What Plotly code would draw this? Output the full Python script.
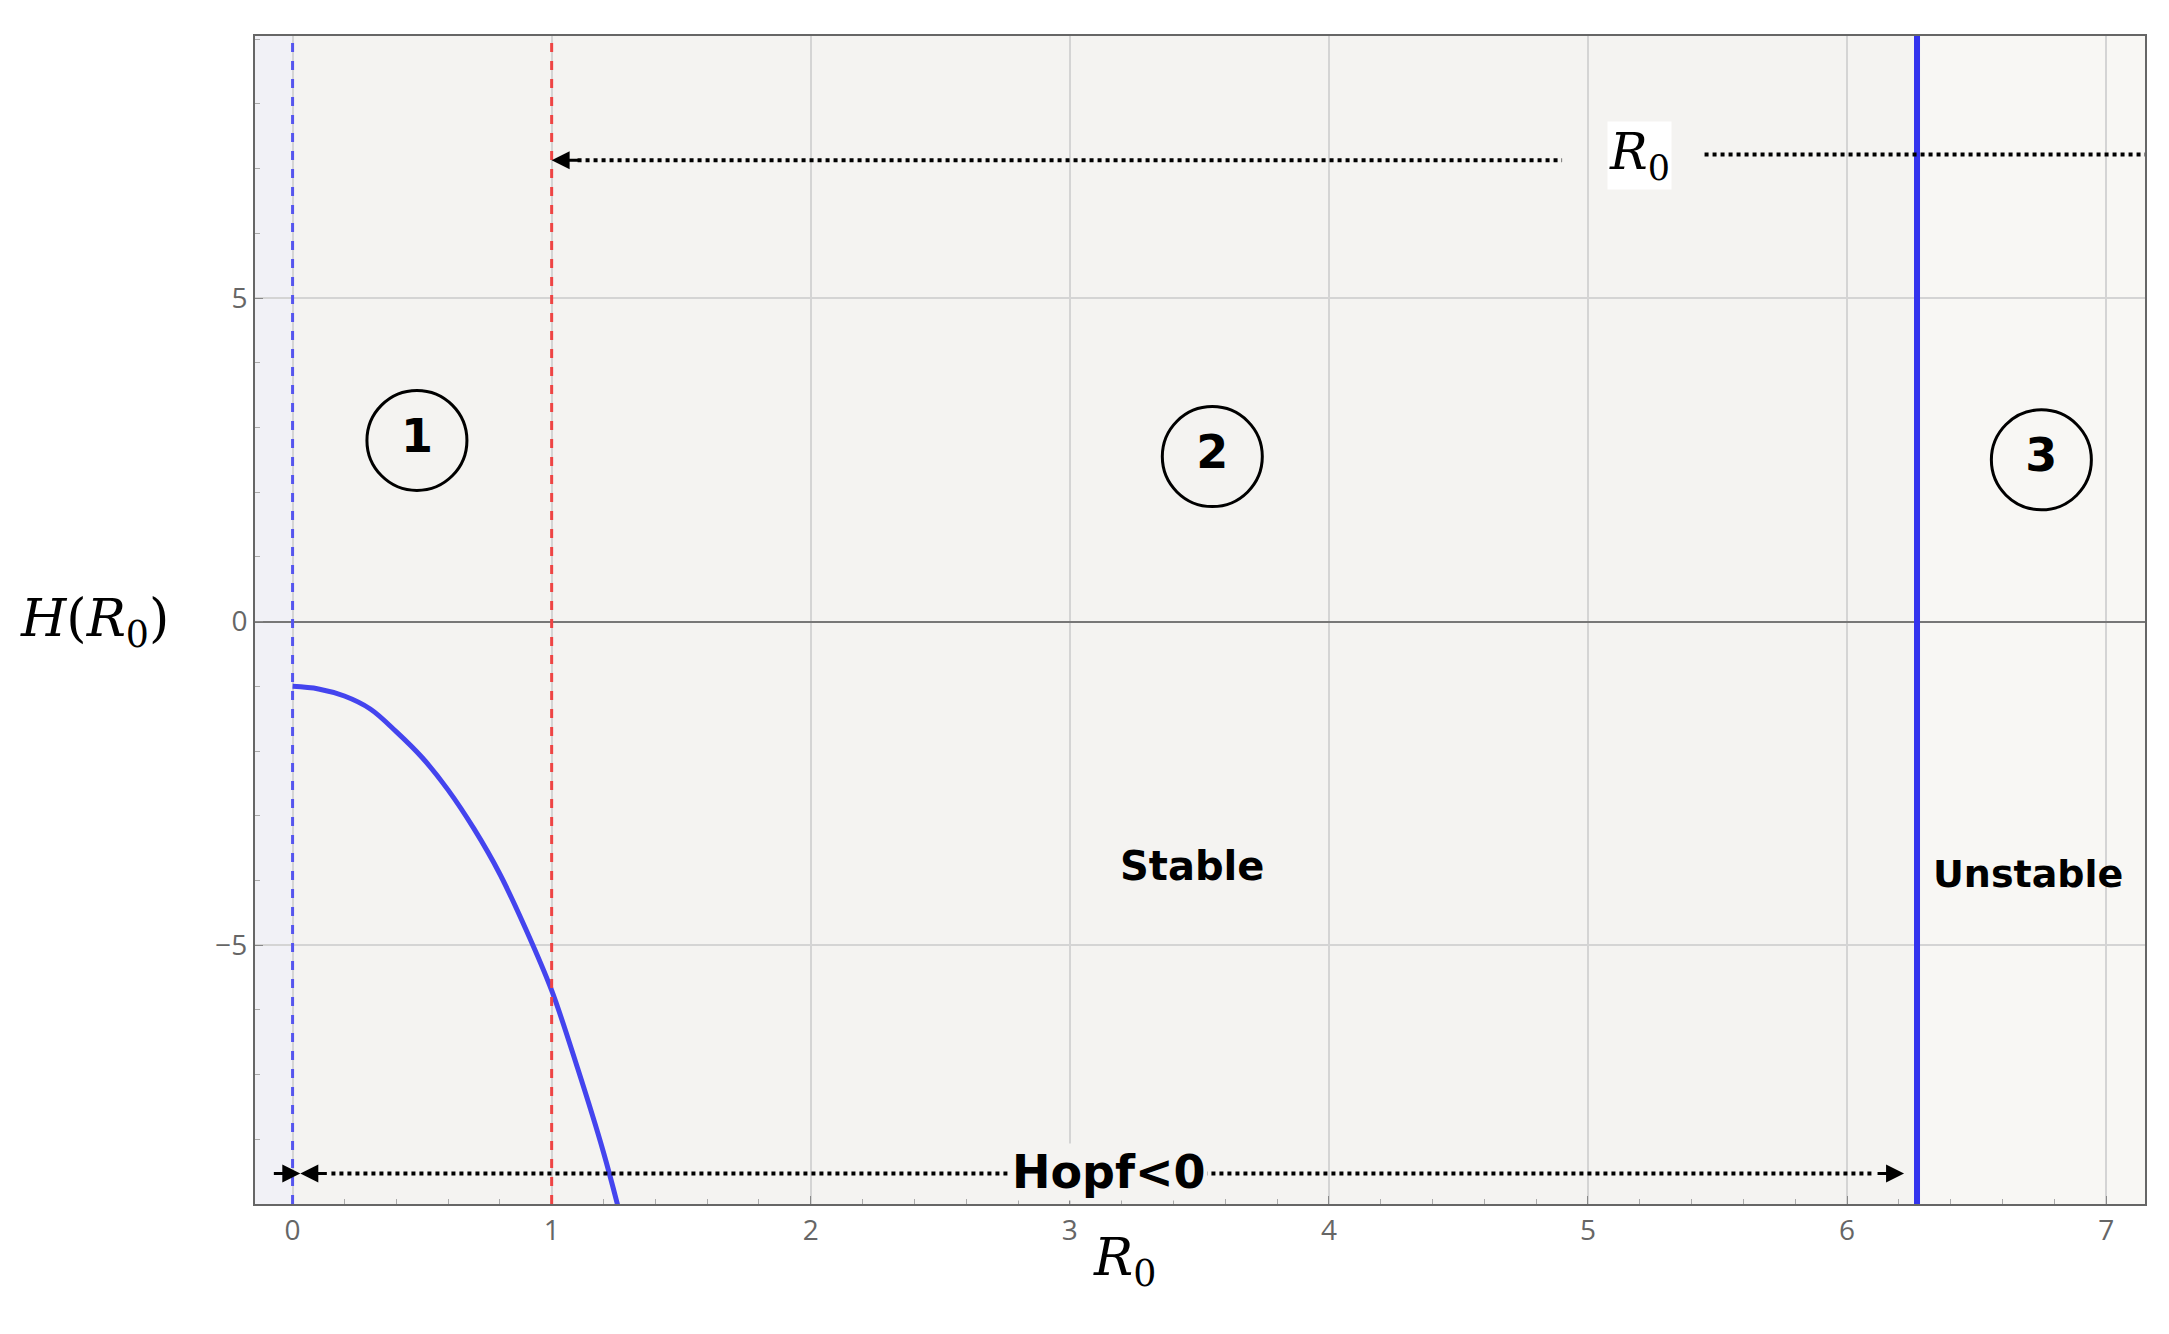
import plotly.graph_objects as go

# curve H(R0)
r0 = [0.0, 0.1, 0.2, 0.3, 0.4, 0.5, 0.6, 0.7, 0.8, 0.9, 1.0, 1.1, 1.2, 1.26]
h = [-1.0, -1.04, -1.15, -1.35, -1.7, -2.1, -2.6, -3.2, -3.9, -4.75, -5.7, -6.9, -8.2, -9.1]

x_blue_dash = 0.0
x_red_dash = 1.0
x_hopf = 6.27

region_x = [0.48, 3.55, 6.75]
region_y = [2.8, 2.55, 2.5]
region_lbl = ["<b>1</b>", "<b>2</b>", "<b>3</b>"]

xticks = [0, 1, 2, 3, 4, 5, 6, 7]
yticks = [-5, 0, 5]

fig = go.Figure()

# background regions
fig.add_vrect(x0=-0.15, x1=x_blue_dash, fillcolor="#f1f1f6", line_width=0, layer="below")
fig.add_vrect(x0=x_blue_dash, x1=x_hopf, fillcolor="#f4f3f1", line_width=0, layer="below")
fig.add_vrect(x0=x_hopf, x1=7.15, fillcolor="#f8f7f4", line_width=0, layer="below")

fig.add_trace(go.Scatter(x=r0, y=h, mode="lines", line=dict(color="#4444ee", width=5, shape="spline"),
                         showlegend=False))

fig.add_vline(x=x_blue_dash, line=dict(color="#5555ee", width=3, dash="dash"))
fig.add_vline(x=x_red_dash, line=dict(color="#ee4444", width=3, dash="dash"))
fig.add_vline(x=x_hopf, line=dict(color="#3333ee", width=6))

# circled region numbers
fig.add_trace(go.Scatter(x=region_x, y=region_y, mode="markers+text", text=region_lbl,
                         textfont=dict(size=46, color="black", family="DejaVu Sans"),
                         marker=dict(symbol="circle-open", size=100, color="black", line=dict(width=3)),
                         showlegend=False))

# top arrow: dotted shaft + short arrowhead
fig.add_shape(type="line", x0=1.1, x1=4.9, y0=7.13, y1=7.13, line=dict(color="black", width=4, dash="dot"))
fig.add_annotation(x=x_red_dash, y=7.13, ax=28, ay=0, xref="x", yref="y",
                   showarrow=True, arrowhead=2, arrowsize=1.2, arrowwidth=3, arrowcolor="black", text="")
fig.add_shape(type="line", x0=5.45, x1=7.4, y0=7.22, y1=7.22, line=dict(color="black", width=4, dash="dot"))
fig.add_annotation(x=5.2, y=7.2, text="<i>R</i><sub>0</sub>", showarrow=False,
                   font=dict(family="DejaVu Serif", size=50, color="black"), bgcolor="white")

# bottom double arrow
fig.add_shape(type="line", x0=0.15, x1=6.1, y0=-8.53, y1=-8.53, line=dict(color="black", width=4, dash="dot"))
fig.add_annotation(x=0.03, y=-8.53, ax=-28, ay=0, xref="x", yref="y", showarrow=True, arrowhead=2,
                   arrowsize=1.2, arrowwidth=3, arrowcolor="black", text="", standoff=0)
fig.add_annotation(x=0.03, y=-8.53, ax=28, ay=0, xref="x", yref="y", showarrow=True, arrowhead=2,
                   arrowsize=1.2, arrowwidth=3, arrowcolor="black", text="")
fig.add_annotation(x=6.22, y=-8.53, ax=-28, ay=0, xref="x", yref="y", showarrow=True, arrowhead=2,
                   arrowsize=1.2, arrowwidth=3, arrowcolor="black", text="")
fig.add_annotation(x=3.15, y=-8.5, text="<b>Hopf<0</b>", showarrow=False,
                   font=dict(family="DejaVu Sans", size=46, color="black"), bgcolor="#f4f3f1")

fig.add_annotation(x=3.47, y=-3.77, text="<b>Stable</b>", showarrow=False,
                   font=dict(family="DejaVu Sans", size=40, color="black"))
fig.add_annotation(x=6.7, y=-3.9, text="<b>Unstable</b>", showarrow=False,
                   font=dict(family="DejaVu Sans", size=38, color="black"))

# axis titles
fig.add_annotation(xref="paper", yref="paper", x=0.46, y=-0.08, text="<i>R</i><sub>0</sub>",
                   showarrow=False, font=dict(family="DejaVu Serif", size=52, color="black"))
fig.add_annotation(xref="paper", yref="y", x=-0.085, y=0, xanchor="center", text="<i>H</i>(<i>R</i><sub>0</sub>)",
                   showarrow=False, font=dict(family="DejaVu Serif", size=52, color="black"))

fig.update_xaxes(range=[-0.145, 7.15], tickvals=xticks, showgrid=True, gridcolor="#d4d4d4", gridwidth=1.5,
                 zeroline=False, showline=True, mirror=True, linecolor="#666", linewidth=2,
                 ticks="inside", ticklen=8, tickcolor="#888", tickfont=dict(size=28, color="#666"),
                 minor=dict(ticks="inside", ticklen=5, dtick=0.2, tickcolor="#aaa"))
fig.update_yaxes(range=[-9.0, 9.05], tickvals=yticks, showgrid=True, gridcolor="#d4d4d4", gridwidth=1.5,
                 zeroline=True, zerolinecolor="#777", zerolinewidth=2,
                 showline=True, mirror=True, linecolor="#666", linewidth=2,
                 ticks="inside", ticklen=8, tickcolor="#888", tickfont=dict(size=28, color="#666"),
                 minor=dict(ticks="inside", ticklen=5, dtick=1, tickcolor="#aaa"))

fig.update_layout(width=2169, height=1334, paper_bgcolor="white", plot_bgcolor="#f4f3f1",
                  margin=dict(l=247, r=32, t=28, b=138), showlegend=False)

fig.write_html("out.html")
